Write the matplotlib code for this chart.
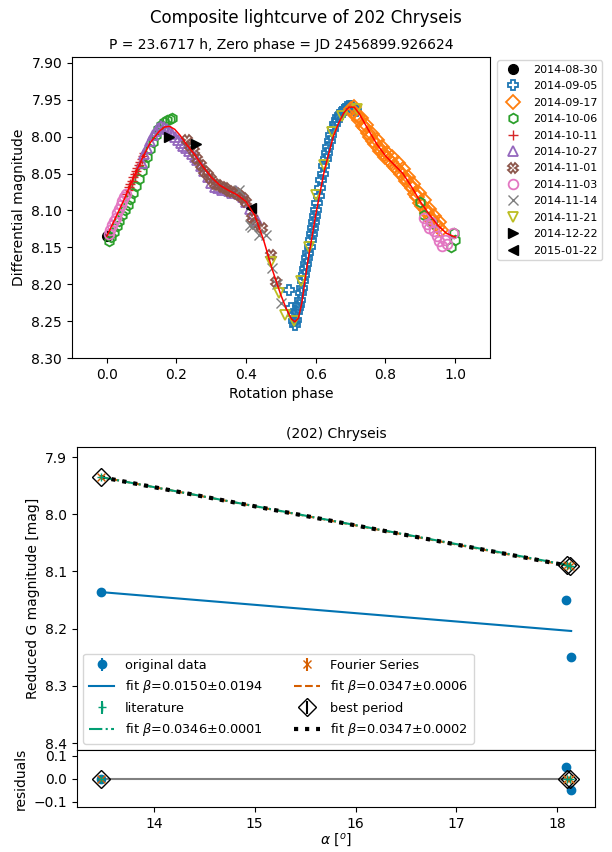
import numpy as np
import matplotlib
matplotlib.use("Agg")
import matplotlib.pyplot as plt

# ---- lightcurve data (phase, differential magnitude) per night ----
nights = ["2014-08-30", "2014-09-05", "2014-09-17", "2014-10-06", "2014-10-11",
          "2014-10-27", "2014-11-01", "2014-11-03", "2014-11-14", "2014-11-21",
          "2014-12-22", "2015-01-22"]

ph_0830 = [0.0]
mag_0830 = [8.135]

ph_0905 = [0.522, 0.528, 0.534, 0.538, 0.541, 0.544, 0.546, 0.549, 0.552, 0.555,
           0.558, 0.561, 0.564, 0.567, 0.570, 0.573, 0.576, 0.579, 0.582, 0.585,
           0.588, 0.591, 0.594, 0.597, 0.600, 0.604, 0.608, 0.612, 0.616, 0.620,
           0.624, 0.628, 0.632, 0.636, 0.640, 0.645, 0.650, 0.655, 0.660, 0.665,
           0.670, 0.675, 0.680, 0.685, 0.690, 0.695, 0.700, 0.705, 0.710, 0.715]
mag_0905 = [8.208, 8.232, 8.240, 8.250, 8.255, 8.248, 8.238, 8.232, 8.228, 8.222,
            8.212, 8.205, 8.196, 8.188, 8.180, 8.172, 8.165, 8.157, 8.149, 8.140,
            8.132, 8.124, 8.116, 8.108, 8.100, 8.090, 8.080, 8.070, 8.059, 8.050,
            8.040, 8.030, 8.022, 8.014, 8.006, 7.998, 7.990, 7.983, 7.978, 7.974,
            7.970, 7.967, 7.964, 7.962, 7.960, 7.959, 7.958, 7.960, 7.962, 7.965]

ph_0917 = [0.700, 0.705, 0.710, 0.715, 0.720, 0.725, 0.730, 0.735, 0.740, 0.745,
           0.750, 0.755, 0.760, 0.765, 0.770, 0.775, 0.780, 0.785, 0.790, 0.795,
           0.800, 0.805, 0.810, 0.815, 0.820, 0.825, 0.830, 0.835, 0.840, 0.845,
           0.850, 0.855, 0.860, 0.865, 0.870, 0.875, 0.880, 0.885, 0.890, 0.895,
           0.900, 0.905, 0.910, 0.915, 0.920, 0.925, 0.930, 0.935, 0.940, 0.945,
           0.950, 0.955, 0.960]
mag_0917 = [7.962, 7.966, 7.960, 7.970, 7.972, 7.978, 7.975, 7.985, 7.988, 7.984,
            7.995, 8.000, 7.996, 8.006, 8.010, 8.004, 8.016, 8.020, 8.014, 8.024,
            8.028, 8.022, 8.032, 8.034, 8.028, 8.040, 8.042, 8.036, 8.046, 8.050,
            8.044, 8.056, 8.060, 8.054, 8.066, 8.070, 8.064, 8.078, 8.082, 8.076,
            8.090, 8.094, 8.086, 8.100, 8.104, 8.098, 8.110, 8.114, 8.108, 8.118,
            8.122, 8.116, 8.126]

ph_1006 = [0.005, 0.012, 0.020, 0.028, 0.036, 0.044, 0.052, 0.060, 0.068, 0.076,
           0.084, 0.092, 0.100, 0.108, 0.116, 0.124, 0.132, 0.140, 0.148, 0.156,
           0.164, 0.172, 0.180, 0.188, 0.900, 0.911, 0.935, 0.988, 0.998, 1.000]
mag_1006 = [8.142, 8.136, 8.129, 8.121, 8.114, 8.106, 8.099, 8.092, 8.085, 8.077,
            8.067, 8.057, 8.047, 8.037, 8.027, 8.017, 8.007, 7.998, 7.990, 7.984,
            7.980, 7.978, 7.976, 7.975, 8.088, 8.106, 8.117, 8.150, 8.130, 8.140]

ph_1011 = [0.055, 0.060, 0.064, 0.068, 0.072, 0.076, 0.080, 0.084, 0.088, 0.092,
           0.096, 0.100, 0.104, 0.108]
mag_1011 = [8.078, 8.072, 8.068, 8.064, 8.060, 8.055, 8.050, 8.046, 8.042, 8.038,
            8.034, 8.030, 8.026, 8.022]

ph_1027 = [0.100, 0.108, 0.116, 0.124, 0.132, 0.140, 0.148, 0.156, 0.164, 0.172,
           0.180, 0.188, 0.196, 0.204, 0.212, 0.220, 0.228, 0.236, 0.244, 0.252,
           0.260, 0.270, 0.280, 0.290, 0.300, 0.310, 0.320, 0.330, 0.340, 0.350,
           0.360, 0.370, 0.380, 0.390, 0.400, 0.410, 0.420, 0.430]
mag_1027 = [8.035, 8.024, 8.015, 8.006, 7.998, 7.992, 7.988, 7.986, 7.987, 7.989,
            7.992, 7.996, 8.000, 8.004, 8.008, 8.012, 8.016, 8.020, 8.024, 8.028,
            8.032, 8.040, 8.046, 8.055, 8.063, 8.068, 8.070, 8.072, 8.070, 8.074,
            8.076, 8.074, 8.078, 8.082, 8.088, 8.098, 8.105, 8.113]

ph_1101 = [0.230, 0.240, 0.250, 0.260, 0.270, 0.280, 0.290, 0.300, 0.310, 0.320,
           0.330, 0.340, 0.350, 0.360, 0.370, 0.380, 0.390, 0.400, 0.417, 0.425,
           0.446, 0.470, 0.485]
mag_1101 = [8.005, 8.012, 8.020, 8.030, 8.038, 8.046, 8.052, 8.058, 8.064, 8.066,
            8.068, 8.070, 8.073, 8.075, 8.077, 8.079, 8.083, 8.088, 8.110, 8.118,
            8.124, 8.160, 8.197]

ph_1103 = [0.005, 0.010, 0.015, 0.020, 0.025, 0.030, 0.035, 0.040, 0.045, 0.050,
           0.055, 0.910, 0.918, 0.925, 0.932, 0.940, 0.948, 0.955, 0.962, 0.970,
           0.978, 0.995]
mag_1103 = [8.132, 8.126, 8.120, 8.114, 8.110, 8.104, 8.098, 8.092, 8.087, 8.082,
            8.078, 8.110, 8.118, 8.124, 8.115, 8.128, 8.135, 8.142, 8.148, 8.140,
            8.145, 8.130]

ph_1114 = [0.380, 0.410, 0.417, 0.437, 0.456, 0.475, 0.490, 0.500]
mag_1114 = [8.072, 8.120, 8.122, 8.133, 8.133, 8.178, 8.200, 8.226]

ph_1121 = [0.470, 0.494, 0.513, 0.537, 0.557, 0.580, 0.600, 0.624, 0.647, 0.675, 0.718]
mag_1121 = [8.170, 8.212, 8.242, 8.250, 8.195, 8.149, 8.079, 8.038, 7.994, 7.972, 7.963]

ph_1222 = [0.178, 0.256]
mag_1222 = [8.000, 8.010]

ph_0122 = [0.414]
mag_0122 = [8.096]

# Fourier series fit of the composite lightcurve
fit_phase = [0.0, 0.025, 0.05, 0.075, 0.1, 0.125, 0.15, 0.165, 0.18, 0.195, 0.21,
             0.225, 0.25, 0.275, 0.3, 0.325, 0.35, 0.375, 0.4, 0.425, 0.45, 0.475,
             0.5, 0.515, 0.53, 0.54, 0.55, 0.56, 0.575, 0.6, 0.625, 0.65, 0.665,
             0.68, 0.695, 0.71, 0.725, 0.75, 0.775, 0.8, 0.825, 0.85, 0.875, 0.9,
             0.925, 0.95, 0.975, 1.0]
fit_mag = [8.135, 8.110, 8.085, 8.057, 8.031, 8.008, 7.993, 7.987, 7.986, 7.990,
           7.998, 8.008, 8.023, 8.040, 8.055, 8.066, 8.073, 8.079, 8.088, 8.107,
           8.140, 8.180, 8.215, 8.233, 8.247, 8.251, 8.246, 8.225, 8.175, 8.105,
           8.045, 8.000, 7.982, 7.968, 7.960, 7.960, 7.969, 7.990, 8.010, 8.026,
           8.038, 8.050, 8.068, 8.088, 8.105, 8.120, 8.131, 8.136]

# ---- phase curve data ----
alpha_orig = [13.47, 18.09, 18.14]
H_orig = [8.136, 8.150, 8.250]
H_orig_err = [0.003, 0.003, 0.003]
res_orig = [0.0, 0.051, -0.049]

alpha_best = [13.47, 18.10, 18.13]
H_best = [7.935, 8.088, 8.090]
H_lit = [7.935, 8.088, 8.090]
H_four = [7.935, 8.088, 8.090]
res_zero = [0.0, 0.0, 0.0]

fit_alpha = [13.47, 18.14]
fit_orig = [8.136, 8.204]
fit_lit = [7.935, 8.090]
fit_four = [7.935, 8.091]
fit_best = [7.935, 8.091]

labels_fit = ["fit $\\beta$=0.0150$\\pm$0.0194", "fit $\\beta$=0.0346$\\pm$0.0001",
              "fit $\\beta$=0.0347$\\pm$0.0006", "fit $\\beta$=0.0347$\\pm$0.0002"]

c_blue = "#0173b2"
c_orange = "#d55e00"
c_green = "#029e73"

fig = plt.figure(figsize=(6.12, 8.52), dpi=100)
fig.suptitle("Composite lightcurve of 202 Chryseis", fontsize=12, y=0.989)

ax1 = fig.add_axes([0.1176, 0.5798, 0.683, 0.3533])
styles = [
    (ph_0830, mag_0830, "o", "black", True),
    (ph_0905, mag_0905, "P", "#1f77b4", False),
    (ph_0917, mag_0917, "D", "#ff7f0e", False),
    (ph_1006, mag_1006, "h", "#2ca02c", False),
    (ph_1011, mag_1011, "+", "#d62728", True),
    (ph_1027, mag_1027, "^", "#9467bd", False),
    (ph_1101, mag_1101, "X", "#8c564b", False),
    (ph_1103, mag_1103, "o", "#e377c2", False),
    (ph_1114, mag_1114, "x", "#7f7f7f", True),
    (ph_1121, mag_1121, "v", "#bcbd22", False),
    (ph_1222, mag_1222, ">", "black", True),
    (ph_0122, mag_0122, "<", "black", True),
]
for (ph, mg, mk, col, filled), lab in zip(styles, nights):
    if filled:
        ax1.plot(ph, mg, ls="none", marker=mk, color=col, ms=7, label=lab)
    else:
        ax1.plot(ph, mg, ls="none", marker=mk, mfc="none", mec=col, ms=7, mew=1.3, label=lab)
ax1.plot(fit_phase, fit_mag, color="red", lw=1.1, zorder=3)
ax1.set_xlim(-0.1, 1.1)
ax1.set_ylim(8.30, 7.892)
ax1.set_yticks(np.arange(7.90, 8.301, 0.05))
ax1.yaxis.set_major_formatter(matplotlib.ticker.FormatStrFormatter("%.2f"))
ax1.set_xlabel("Rotation phase")
ax1.set_ylabel("Differential magnitude")
ax1.set_title("P = 23.6717 h, Zero phase = JD 2456899.926624", fontsize=10)
ax1.legend(loc="upper left", bbox_to_anchor=(1.01, 1.0), fontsize=8,
           borderaxespad=0.3, labelspacing=0.58)

# ---- reduced magnitude vs phase angle ----
ax2 = fig.add_axes([0.1258, 0.1197, 0.846, 0.3560])
ax3 = fig.add_axes([0.1258, 0.0528, 0.846, 0.0669], sharex=ax2)

h_orig = ax2.errorbar(alpha_orig, H_orig, yerr=H_orig_err, fmt="o", color=c_blue, ms=6)
l_orig, = ax2.plot(fit_alpha, fit_orig, "-", color=c_blue, lw=1.5)
h_best = ax2.errorbar(alpha_best, H_best, yerr=[0.001] * 3, fmt="D", color="black",
                      mfc="none", mec="black", ms=9, mew=1)
h_four = ax2.errorbar(alpha_best, H_four, yerr=[0.003] * 3, fmt="x", color=c_orange, ms=6)
h_lit = ax2.errorbar(alpha_best, H_lit, yerr=[0.003] * 3, fmt="+", color=c_green, ms=6)
l_four, = ax2.plot(fit_alpha, fit_four, "--", color=c_orange, lw=1.5)
l_lit, = ax2.plot(fit_alpha, fit_lit, "-.", color=c_green, lw=1.5)
l_best, = ax2.plot(fit_alpha, fit_best, ":", color="black", lw=3)
ax2.set_ylim(8.412, 7.882)
ax2.set_yticks([7.9, 8.0, 8.1, 8.2, 8.3, 8.4])
ax2.set_ylabel("Reduced G magnitude [mag]")
ax2.set_title("(202) Chryseis", fontsize=10)
plt.setp(ax2.get_xticklabels(), visible=False)
ax2.legend([h_orig, l_orig, h_lit, l_lit, h_four, l_four, h_best, l_best],
           ["original data", labels_fit[0], "literature", labels_fit[1],
            "Fourier Series", labels_fit[2], "best period", labels_fit[3]],
           ncol=2, loc="lower left", fontsize=9.3, columnspacing=2.4)

ax3.plot(fit_alpha, [0.0, 0.0], color="gray", lw=1.5)
ax3.plot(alpha_orig, res_orig, "o", color=c_blue, ms=6)
ax3.plot(alpha_best, res_zero, "D", mfc="none", mec="black", ms=9, mew=1)
ax3.plot(alpha_best, res_zero, "x", color=c_orange, ms=6)
ax3.plot(alpha_best, res_zero, "+", color=c_green, ms=6)
ax3.set_ylim(-0.123, 0.125)
ax3.set_yticks([-0.1, 0.0, 0.1])
ax3.set_xlim(13.236, 18.374)
ax3.set_ylabel("residuals")
ax3.set_xlabel("$\\alpha$ [$^o$]", labelpad=1)

fig.savefig("out.png", dpi=100)
